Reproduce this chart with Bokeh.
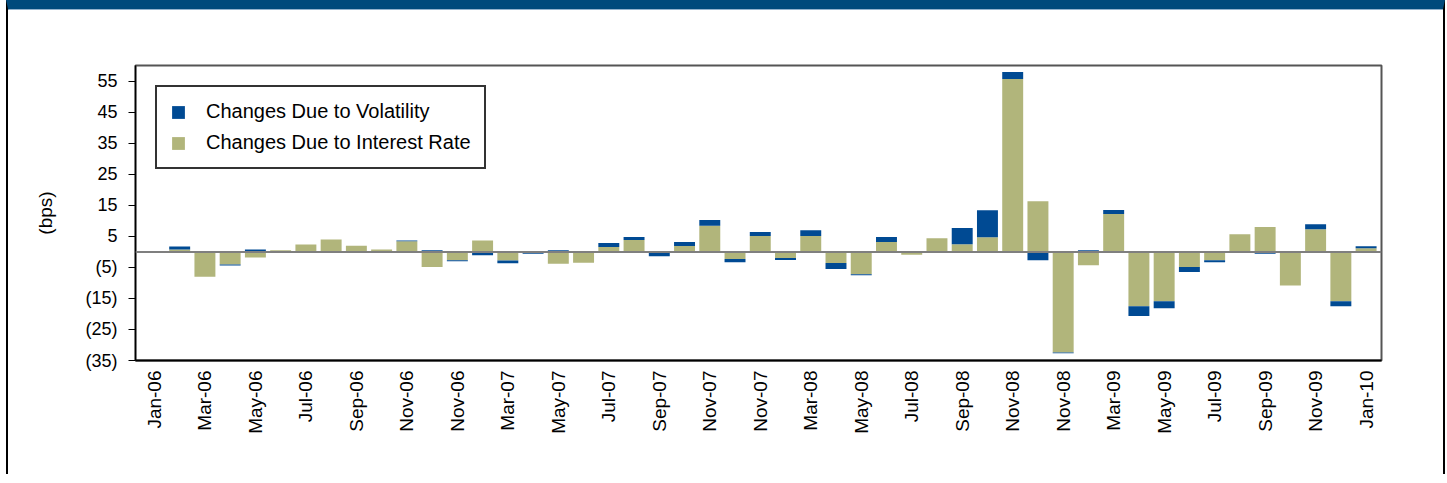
import math
from bokeh.plotting import figure
from bokeh.models import (ColumnDataSource, FixedTicker, Span, Legend,
                          LegendItem, Range1d, CustomJSTickFormatter)
from bokeh.embed import file_html
from bokeh.resources import INLINE

# ---------------- data ----------------
months = ["Jan-06", "Feb-06", "Mar-06", "Apr-06", "May-06", "Jun-06", "Jul-06", "Aug-06",
          "Sep-06", "Oct-06", "Nov-06", "Dec-06",
          "Jan-07", "Feb-07", "Mar-07", "Apr-07", "May-07", "Jun-07", "Jul-07", "Aug-07",
          "Sep-07", "Oct-07", "Nov-07", "Dec-07",
          "Jan-08", "Feb-08", "Mar-08", "Apr-08", "May-08", "Jun-08", "Jul-08", "Aug-08",
          "Sep-08", "Oct-08", "Nov-08", "Dec-08",
          "Jan-09", "Feb-09", "Mar-09", "Apr-09", "May-09", "Jun-09", "Jul-09", "Aug-09",
          "Sep-09", "Oct-09", "Nov-09", "Dec-09",
          "Jan-10"]

tick_labels = ["Jan-06", "Mar-06", "May-06", "Jul-06", "Sep-06", "Nov-06", "Nov-06",
               "Mar-07", "May-07", "Jul-07", "Sep-07", "Nov-07", "Nov-07",
               "Mar-08", "May-08", "Jul-08", "Sep-08", "Nov-08", "Nov-08",
               "Mar-09", "May-09", "Jul-09", "Sep-09", "Nov-09", "Jan-10"]

y_ticks = [-35, -25, -15, -5, 5, 15, 25, 35, 45, 55]

interest_rate = [0.0, 0.8, -8.0, -4.1, -1.8, 0.5, 2.4, 4.0, 2.0, 0.8, 3.4, -4.9,
                 -2.7, 3.7, -2.8, 0.3, -3.8, -3.5, 1.6, 3.8, -0.2, 1.9, 8.4, -2.3,
                 5.1, -2.0, 5.1, -3.6, -7.2, 3.2, -0.9, 4.4, 2.5, 4.7, 55.7, 16.3,
                 -32.4, -4.3, 12.2, -17.5, -15.9, -4.9, -2.7, 5.7, 8.0, -10.8, 7.3, -15.9,
                 1.2]

volatility = [0.0, 0.9, 0.0, -0.3, 0.8, 0.0, 0.0, -0.3, 0.0, -0.3, 0.3, 0.5,
              -0.3, -1.1, -0.9, -0.6, 0.5, 0.0, 1.3, 1.0, -1.2, 1.3, 1.9, -1.0,
              1.3, -0.6, 1.9, -1.9, -0.3, 1.6, 0.0, 0.0, 5.2, 8.7, 2.3, -2.7,
              -0.3, 0.5, 1.3, -3.2, -2.3, -1.6, -0.6, 0.0, -0.6, 0.0, 1.6, -1.6,
              0.6]

# ---------------- stacking (positives up, negatives down) ----------------
x = list(range(len(months)))
ir_bot, ir_top, vol_bot, vol_top = [], [], [], []
for r, v in zip(interest_rate, volatility):
    pos, neg = 0.0, 0.0
    if r >= 0:
        ir_bot.append(0.0); ir_top.append(r); pos = r
    else:
        ir_bot.append(r); ir_top.append(0.0); neg = r
    if v >= 0:
        vol_bot.append(pos); vol_top.append(pos + v)
    else:
        vol_bot.append(neg + v); vol_top.append(neg)

src = ColumnDataSource(dict(x=x, month=months, ir_bot=ir_bot, ir_top=ir_top,
                            vol_bot=vol_bot, vol_top=vol_top))

GREEN = "#B1B57B"
BLUE = "#004A93"
FONT = "Liberation Sans"

W, H = 1439, 474
p = figure(width=W, height=H, output_backend="svg", toolbar_location=None,
           x_range=Range1d(-0.75, 48.61), y_range=Range1d(-35, 60.06),
           min_border_left=127, min_border_right=66, min_border_top=56,
           min_border_bottom=123)
p.styles = {"margin-left": "6px",
            "border-left": "2px solid black", "border-right": "2px solid black",
            "border-top": "9px solid #004A7C",
            "box-shadow": "inset 0 1px 0 #6F98BC"}

r_ir = p.vbar(x="x", width=0.83, bottom="ir_bot", top="ir_top", source=src,
              fill_color=GREEN, line_color=None)
r_vol = p.vbar(x="x", width=0.83, bottom="vol_bot", top="vol_top", source=src,
               fill_color=BLUE, line_color=None)

p.add_layout(Span(location=0, dimension="width", line_color="#7f7f7f", line_width=2))

p.xgrid.visible = False
p.ygrid.visible = False
p.outline_line_color = "#555555"
p.outline_line_width = 2
p.outline_line_alpha = 1

# y axis
p.yaxis.ticker = FixedTicker(ticks=y_ticks)
p.yaxis.formatter = CustomJSTickFormatter(
    code="return tick < 0 ? '(' + Math.abs(tick) + ')' : String(tick);")
p.yaxis.axis_label = "(bps)"
p.yaxis.axis_label_text_font = FONT
p.yaxis.axis_label_text_font_style = "normal"
p.yaxis.axis_label_text_font_size = "19px"
p.yaxis.axis_label_text_color = "black"
p.yaxis.axis_label_standoff = 26
p.yaxis.major_label_text_font = FONT
p.yaxis.major_label_text_font_size = "18px"
p.yaxis.major_label_text_color = "black"
p.yaxis.major_label_standoff = 11
p.yaxis.major_tick_out = 7
p.yaxis.major_tick_in = 0
p.yaxis.minor_tick_out = 0
p.yaxis.minor_tick_in = 0
p.yaxis.major_tick_line_color = "black"
p.yaxis.axis_line_color = "black"
p.yaxis.axis_line_width = 1.5

# x axis
p.xaxis.ticker = FixedTicker(ticks=list(range(0, len(months), 2)))
p.xaxis.formatter = CustomJSTickFormatter(
    args=dict(labels=tick_labels),
    code="const i = Math.round(tick / 2); return labels[i] !== undefined ? labels[i] : '';")
p.xaxis.major_label_orientation = math.pi / 2
p.xaxis.major_label_text_font = FONT
p.xaxis.major_label_text_font_size = "19px"
p.xaxis.major_label_text_color = "black"
p.xaxis.major_label_standoff = 10
p.xaxis.major_tick_out = 0
p.xaxis.major_tick_in = 0
p.xaxis.minor_tick_out = 0
p.xaxis.minor_tick_in = 0
p.xaxis.axis_line_color = "black"
p.xaxis.axis_line_width = 2

legend = Legend(items=[LegendItem(label="Changes Due to Volatility", renderers=[r_vol]),
                       LegendItem(label="Changes Due to Interest Rate", renderers=[r_ir])],
                location="top_left", margin=20, padding=13, spacing=8,
                glyph_width=16, glyph_height=16, label_height=16, label_standoff=20,
                label_text_font=FONT, label_text_font_size="20px",
                label_text_color="black",
                border_line_color="#333333", border_line_width=2, border_line_alpha=1,
                background_fill_color="white", background_fill_alpha=1)
p.add_layout(legend)

open("out.html", "w").write(file_html(p, INLINE))
